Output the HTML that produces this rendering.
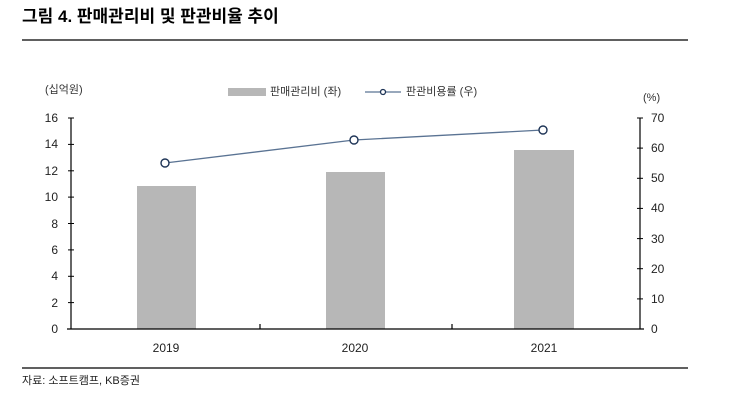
<!DOCTYPE html>
<html><head><meta charset="utf-8"><style>
body{margin:0;background:#fff;width:729px;height:411px;overflow:hidden;font-family:"Liberation Sans","Noto Sans CJK KR",sans-serif}
</style></head><body>
<svg width="729" height="411" xmlns="http://www.w3.org/2000/svg" font-family="Liberation Sans, Noto Sans CJK KR, sans-serif">
<text x="22" y="22" font-size="17" font-weight="bold" fill="#000">그림 4. 판매관리비 및 판관비율 추이</text>
<line x1="22" y1="40" x2="688" y2="40" stroke="#000" stroke-width="1.2"/>
<text x="45" y="93" font-size="11" fill="#333">(십억원)</text>
<text x="643" y="101" font-size="11" fill="#333">(%)</text>
<rect x="228" y="88" width="38" height="8" fill="#b7b7b7"/>
<text x="270" y="95" font-size="11" fill="#333">판매관리비 (좌)</text>
<line x1="365" y1="92" x2="401" y2="92" stroke="#5a7393" stroke-width="1.3"/>
<circle cx="383" cy="92" r="2.5" fill="#fff" stroke="#1f3557" stroke-width="1.3"/>
<text x="406" y="95" font-size="11" fill="#333">판관비용률 (우)</text>
<rect x="137" y="186" width="59" height="143" fill="#b7b7b7"/>
<rect x="326" y="172" width="59" height="157" fill="#b7b7b7"/>
<rect x="514" y="150" width="60" height="179" fill="#b7b7b7"/>
<g stroke="#000" stroke-width="1.2">
<line x1="71" y1="118" x2="71" y2="329"/>
<line x1="640" y1="118" x2="640" y2="329"/>
<line x1="67" y1="329" x2="644" y2="329"/>
<line x1="260" y1="324" x2="260" y2="329"/>
<line x1="452" y1="324" x2="452" y2="329"/>
</g>
<g stroke="#000" stroke-width="1" font-size="12" fill="#222">
<line x1="68" y1="118" x2="74" y2="118"/><line x1="68" y1="144.4" x2="74" y2="144.4"/><line x1="68" y1="170.8" x2="74" y2="170.8"/><line x1="68" y1="197.1" x2="74" y2="197.1"/><line x1="68" y1="223.5" x2="74" y2="223.5"/><line x1="68" y1="249.9" x2="74" y2="249.9"/><line x1="68" y1="276.3" x2="74" y2="276.3"/><line x1="68" y1="302.6" x2="74" y2="302.6"/>
<line x1="637" y1="118" x2="643" y2="118"/><line x1="637" y1="148.1" x2="643" y2="148.1"/><line x1="637" y1="178.3" x2="643" y2="178.3"/><line x1="637" y1="208.4" x2="643" y2="208.4"/><line x1="637" y1="238.6" x2="643" y2="238.6"/><line x1="637" y1="268.7" x2="643" y2="268.7"/><line x1="637" y1="298.9" x2="643" y2="298.9"/>
</g>
<g font-size="12" fill="#222" text-anchor="end">
<text x="58" y="122">16</text><text x="58" y="148">14</text><text x="58" y="175">12</text><text x="58" y="201">10</text><text x="58" y="228">8</text><text x="58" y="254">6</text><text x="58" y="280">4</text><text x="58" y="307">2</text><text x="58" y="333">0</text>
</g>
<g font-size="12" fill="#222">
<text x="651" y="122">70</text><text x="651" y="152">60</text><text x="651" y="182">50</text><text x="651" y="212">40</text><text x="651" y="243">30</text><text x="651" y="273">20</text><text x="651" y="303">10</text><text x="651" y="333">0</text>
</g>
<g font-size="12" fill="#222" text-anchor="middle">
<text x="166" y="352">2019</text><text x="355" y="352">2020</text><text x="544" y="352">2021</text>
</g>
<polyline points="165,163 354,140 543,130" fill="none" stroke="#5a7393" stroke-width="1.3"/>
<g fill="#fff" stroke="#1f3557" stroke-width="1.4">
<circle cx="165" cy="163" r="4"/><circle cx="354" cy="140" r="4"/><circle cx="543" cy="130" r="4"/>
</g>
<line x1="22" y1="368" x2="688" y2="368" stroke="#000" stroke-width="1.2"/>
<text x="22" y="384" font-size="11" fill="#222">자료: 소프트캠프, KB증권</text>
</svg>
</body></html>
